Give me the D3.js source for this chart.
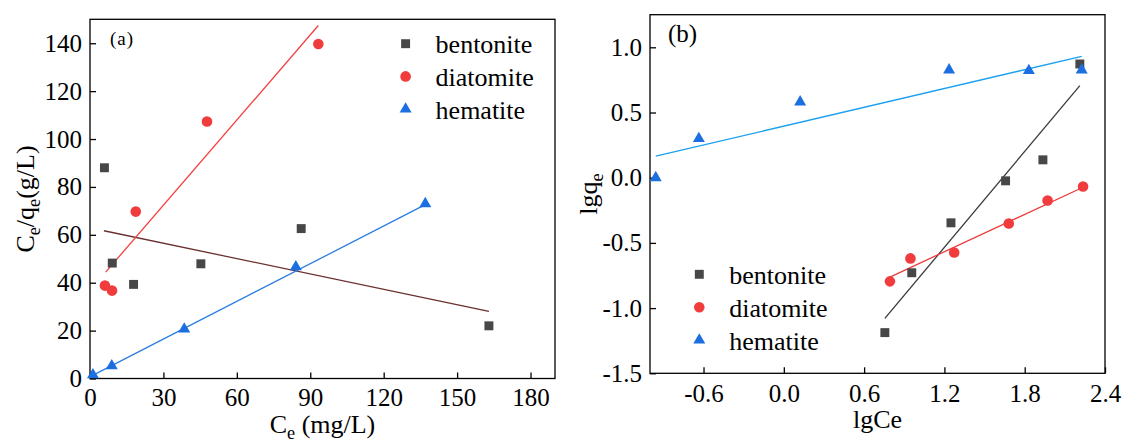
<!DOCTYPE html>
<html>
<head>
<meta charset="utf-8">
<script src="https://cdn.jsdelivr.net/npm/d3@7"></script>
<style>
  html, body { margin: 0; padding: 0; background: #fff; }
  svg text { font-family: "Liberation Serif", "Times New Roman", serif !important; fill: #000; }
</style>
</head>
<body>
<svg id="chart" width="1123" height="441"></svg>
<script>
// series names shared by both panels
const seriesNames = ['bentonite', 'diatomite', 'hematite'];

// (a) Langmuir plot: Ce vs Ce/qe
const bentoniteA = [[5.9, 88.0], [9.1, 48.2], [17.8, 39.3], [45.3, 47.9], [86.3, 62.6], [163.0, 22.0]];
const diatomiteA = [[6.1, 38.8], [9.0, 36.7], [18.7, 69.7], [47.8, 107.3], [93.3, 139.7]];
const hematiteA = [[1.2, 1.5], [8.9, 5.3], [38.5, 20.6], [84.1, 46.6], [137.0, 73.0]];
const bentoniteFitA = [[5.7, 61.7], [163.0, 28.0]];
const diatomiteFitA = [[6.4, 44.4], [93.3, 147.4]];
const hematiteFitA = [[1.3, 1.4], [137.0, 72.6]];
const ticksAX = [0, 30, 60, 90, 120, 150, 180];
const ticksAY = [0, 20, 40, 60, 80, 100, 120, 140];

// (b) Freundlich plot: lgCe vs lgqe
const bentoniteB = [[0.755, -1.188], [0.956, -0.729], [1.249, -0.346], [1.657, -0.024], [1.936, 0.137], [2.212, 0.872]];
const diatomiteB = [[0.793, -0.795], [0.946, -0.619], [1.273, -0.573], [1.681, -0.351], [1.971, -0.175], [2.236, -0.067]];
const hematiteB = [[-0.957, 0.0], [-0.635, 0.300], [0.122, 0.581], [1.235, 0.826], [1.831, 0.821], [2.226, 0.826]];
const bentoniteFitB = [[0.755, -1.079], [2.212, 0.706]];
const diatomiteFitB = [[0.793, -0.762], [2.236, -0.073]];
const hematiteFitB = [[-0.957, 0.165], [2.226, 0.931]];
const ticksBX = [-0.6, 0.0, 0.6, 1.2, 1.8, 2.4];
const ticksBY = [-1.5, -1.0, -0.5, 0.0, 0.5, 1.0];

const markerColor = { bentonite: '#474747', diatomite: '#f03c3c', hematite: '#1b6fe0' };
const markerShape = { bentonite: d3.symbolSquare, diatomite: d3.symbolCircle, hematite: d3.symbolTriangle };
const markerSize = { bentonite: 80, diatomite: 88, hematite: 62 };

const svg = d3.select('#chart');
svg.append('rect').attr('width', 1123).attr('height', 441).attr('fill', '#fff');

function drawPanel(cfg) {
    const x = d3.scaleLinear().domain(cfg.xDomain).range(cfg.xRange);
    const y = d3.scaleLinear().domain(cfg.yDomain).range(cfg.yRange);
    const g = svg.append('g');

    // axes with inward ticks
    const ax = g.append('g')
        .attr('transform', `translate(0,${cfg.yRange[0]})`)
        .call(d3.axisBottom(x).tickValues(cfg.xTicks).tickFormat(cfg.fmt)
            .tickSizeInner(-6).tickSizeOuter(0).tickPadding(cfg.xPad));
    const ay = g.append('g')
        .attr('transform', `translate(${cfg.xRange[0]},0)`)
        .call(d3.axisLeft(y).tickValues(cfg.yTicks).tickFormat(cfg.fmt)
            .tickSizeInner(-6).tickSizeOuter(0).tickPadding(8));
    [ax, ay].forEach(a => {
        a.select('.domain').remove();
        a.selectAll('line').attr('stroke', '#000').attr('stroke-width', 1.3);
        a.selectAll('text').attr('font-size', 25);
    });

    // frame
    g.append('rect')
        .attr('x', cfg.xRange[0]).attr('y', cfg.yRange[1])
        .attr('width', cfg.xRange[1] - cfg.xRange[0])
        .attr('height', cfg.yRange[0] - cfg.yRange[1])
        .attr('fill', 'none').attr('stroke', '#000').attr('stroke-width', 1.3);

    // fitted lines
    const line = d3.line().x(d => x(d[0])).y(d => y(d[1]));
    cfg.fits.forEach(f => {
        g.append('path').datum(f.data)
            .attr('d', line).attr('fill', 'none')
            .attr('stroke', f.color).attr('stroke-width', 1.3);
    });

    // points
    cfg.series.forEach((s, i) => {
        const name = seriesNames[i];
        g.append('g').selectAll('path').data(s).join('path')
            .attr('transform', d => `translate(${x(d[0])},${y(d[1])})`)
            .attr('d', d3.symbol().type(markerShape[name]).size(markerSize[name]))
            .attr('fill', markerColor[name]);
    });

    // legend
    seriesNames.forEach((name, i) => {
        const ly = cfg.legend.y + i * cfg.legend.step;
        g.append('path')
            .attr('transform', `translate(${cfg.legend.x},${ly})`)
            .attr('d', d3.symbol().type(markerShape[name]).size(markerSize[name]))
            .attr('fill', markerColor[name]);
        g.append('text')
            .attr('x', cfg.legend.x + 30).attr('y', ly + 9.5)
            .attr('font-size', 26).text(name);
    });

    // panel tag
    g.append('text').attr('x', cfg.tag.x).attr('y', cfg.tag.y)
        .attr('font-size', cfg.tag.size).attr('letter-spacing', cfg.tag.spacing)
        .text(cfg.tag.text);
    return g;
}

const gA = drawPanel({
    xDomain: [0, 190], yDomain: [0, 150],
    xRange: [90, 555], yRange: [378.5, 19.3],
    xTicks: ticksAX, yTicks: ticksAY, fmt: d3.format('d'), xPad: 10,
    fits: [
        { data: bentoniteFitA, color: '#6a2f2f' },
        { data: diatomiteFitA, color: '#f24040' },
        { data: hematiteFitA, color: '#2a7de1' }
    ],
    series: [bentoniteA, diatomiteA, hematiteA],
    legend: { x: 405.6, y: 43.7, step: 32.7 },
    tag: { x: 110, y: 45, size: 19, spacing: 1, text: '(a)' }
});

const gB = drawPanel({
    xDomain: [-1.0, 2.4], yDomain: [-1.5, 1.25],
    xRange: [650, 1105], yRange: [373.3, 14.7],
    xTicks: ticksBX, yTicks: ticksBY, fmt: d => d.toFixed(1), xPad: 10.5,
    fits: [
        { data: bentoniteFitB, color: '#3a3a3a' },
        { data: diatomiteFitB, color: '#ee3b3b' },
        { data: hematiteFitB, color: '#1aa0f0' }
    ],
    series: [bentoniteB, diatomiteB, hematiteB],
    legend: { x: 699.3, y: 274.3, step: 32.9 },
    tag: { x: 668, y: 41.7, size: 25, spacing: 0, text: '(b)' }
});

// axis titles
function subText(sel, parts) {
    parts.forEach(p => {
        const t = sel.append('tspan').text(p.t);
        if (p.sub) t.attr('font-size', '70%').attr('dy', 6);
        else if (p.after) t.attr('dy', -6);
    });
}

const titleA = svg.append('text').attr('x', 322.5).attr('y', 433)
    .attr('text-anchor', 'middle').attr('font-size', 26);
subText(titleA, [{ t: 'C' }, { t: 'e', sub: true }, { t: ' (mg/L)', after: true }]);

const yTitleA = svg.append('text')
    .attr('transform', 'translate(34,199) rotate(-90)')
    .attr('text-anchor', 'middle').attr('font-size', 26);
subText(yTitleA, [{ t: 'C' }, { t: 'e', sub: true }, { t: '/q', after: true }, { t: 'e', sub: true }, { t: '(g/L)', after: true }]);

svg.append('text').attr('x', 877.5).attr('y', 428)
    .attr('text-anchor', 'middle').attr('font-size', 26).text('lgCe');

const yTitleB = svg.append('text')
    .attr('transform', 'translate(597,194) rotate(-90)')
    .attr('text-anchor', 'middle').attr('font-size', 26);
subText(yTitleB, [{ t: 'lgq' }, { t: 'e', sub: true }]);
</script>
</body>
</html>
